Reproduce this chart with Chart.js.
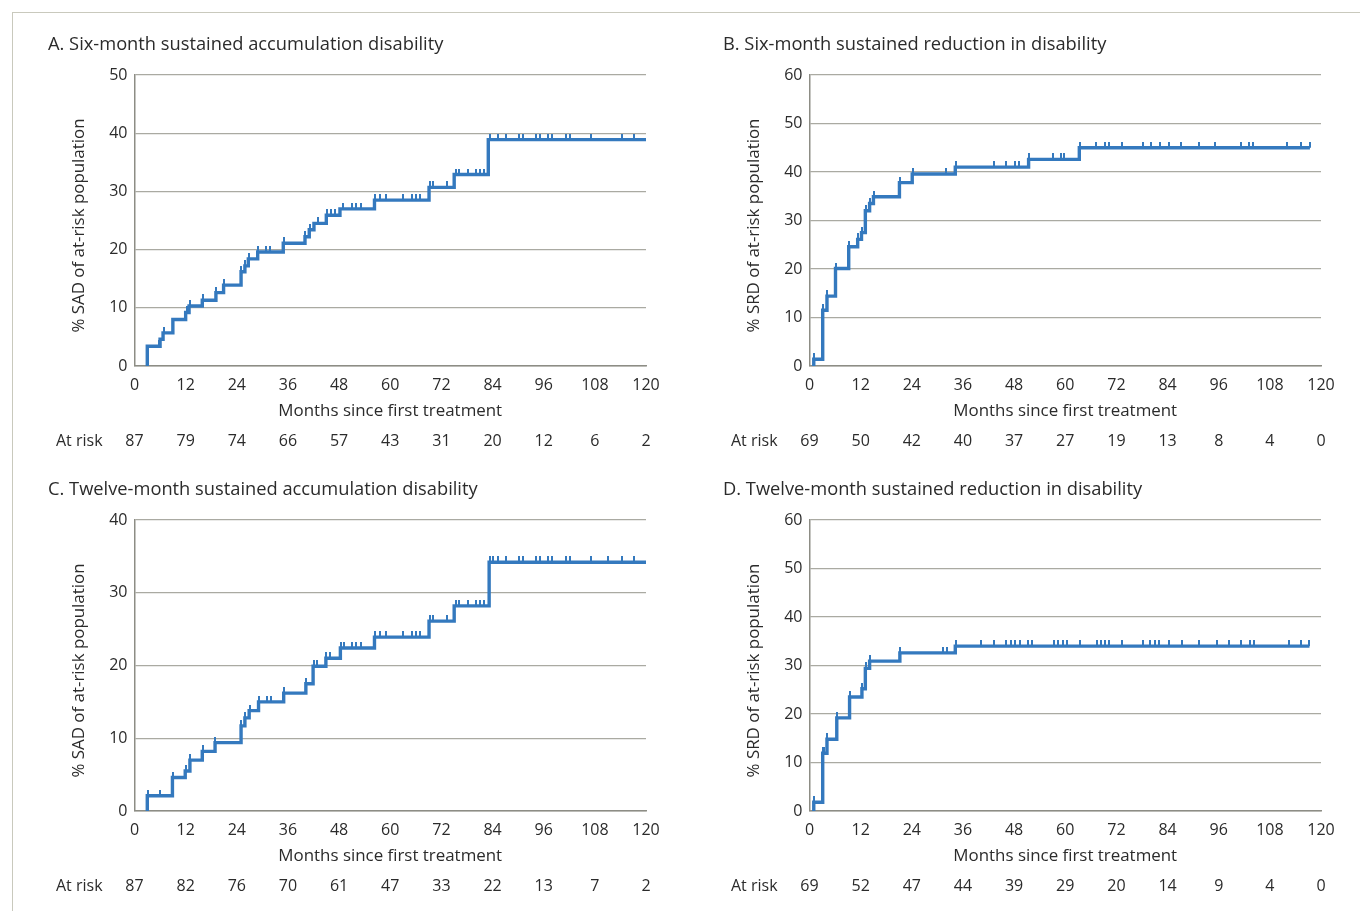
<!DOCTYPE html>
<html>
<head>
<meta charset="utf-8">
<script src="https://cdn.jsdelivr.net/npm/chart.js@4.4.1/dist/chart.umd.min.js"></script>
<style>
  body { margin: 0; background: #fff; width: 1360px; height: 911px; overflow: hidden; position: relative; }
  #frame { position: absolute; left: 12px; top: 12px; width: 1400px; height: 1000px;
           border-left: 1.5px solid #c9c9bd; border-top: 1.5px solid #c9c9bd; }
  canvas { position: absolute; }
</style>
</head>
<body>
<div id="frame"></div>
<canvas id="cA" width="680" height="465" style="left:0px;top:0px"></canvas>
<canvas id="cB" width="680" height="465" style="left:675px;top:0px"></canvas>
<canvas id="cC" width="680" height="465" style="left:0px;top:445px"></canvas>
<canvas id="cD" width="680" height="465" style="left:675px;top:445px"></canvas>
<script>
// ---------------------------------------------------------------
// data (months, % of at-risk population)
// ---------------------------------------------------------------
const MONTHS = [0, 12, 24, 36, 48, 60, 72, 84, 96, 108, 120];

// A. six-month SAD
const timesA = [3, 3, 6, 6.7, 9, 12, 12.8, 15.9, 19.1, 20.9, 25, 25.9, 26.7, 28.9, 34.9, 40, 41, 42.1, 45, 48.2, 56.3, 69.1, 75, 83, 120];
const valuesA = [0, 3.4, 4.6, 5.7, 8, 9.2, 10.3, 11.3, 12.6, 13.9, 16.2, 17.2, 18.4, 19.6, 21.1, 22.2, 23.4, 24.5, 25.9, 27, 28.5, 30.7, 32.9, 38.9, 38.9];
const censorA = [5.8, 6.9, 12.2, 13, 16, 19.2, 21, 25.1, 26, 26.8, 29, 30.8, 31.9, 35, 40.1, 41.1, 43, 45.1, 46, 47, 48.9, 51.1, 52, 53.2,
  56.4, 57.5, 58.9, 63, 65, 66, 66.9, 69.3, 70, 73.2, 75.4, 76.1, 78.2, 80.2, 81.1, 82.1, 83.3, 85.2, 87.1, 90.2, 91.2, 94.3, 95.2,
  97.1, 98, 101.3, 102.2, 107.2, 114.3, 117.3];
const atRiskA = [87, 79, 74, 66, 57, 43, 31, 20, 12, 6, 2];

// B. six-month SRD
const timesB = [1, 1, 3.1, 4.1, 6.1, 9.2, 11.3, 12.2, 13.1, 14.1, 15, 21.1, 24.1, 34.2, 51.4, 63.3, 117.4];
const valuesB = [0, 1.4, 11.5, 14.4, 20.1, 24.6, 26.1, 27.5, 32, 33.5, 34.9, 37.8, 39.6, 41, 42.6, 45, 45];
const censorB = [1.1, 3.2, 4.2, 6.2, 9.3, 11.4, 12.3, 13.2, 14.2, 15.1, 21.2, 24.2, 32.1, 34.3, 43.2, 46.1, 48.1, 49.1, 51.5,
  57.2, 59, 59.8, 63.4, 67.2, 69.4, 70.2, 73.2, 78.2, 80.2, 82.3, 84.3, 87.1, 91.3, 95.2, 101.3, 103.2, 104.1, 112.1, 115.2, 117.4];
const atRiskB = [69, 50, 42, 40, 37, 27, 19, 13, 8, 4, 0];

// C. twelve-month SAD
const timesC = [3, 3, 8.9, 11.9, 13, 15.9, 18.9, 25, 25.9, 26.9, 29.1, 35, 40.2, 41.9, 44.9, 48.3, 56.3, 69.1, 75, 83.2, 120];
const valuesC = [0, 2.1, 4.6, 5.5, 7, 8.2, 9.4, 11.7, 12.8, 13.8, 15, 16.2, 17.5, 19.9, 21, 22.4, 23.9, 26.1, 28.2, 34.2, 34.2];
const censorC = [3.1, 5.9, 9, 12, 13.1, 16, 19, 25.1, 26, 27, 29.2, 31, 32.1, 35.1, 40.3, 42, 42.8, 45, 45.8, 48.4, 49.2, 51.1,
  52, 53.2, 56.4, 57.5, 58.9, 63, 65, 66, 66.9, 69.3, 70, 73.2, 75.4, 76.1, 78.2, 80.2, 81.1, 82.1, 83.3, 84.1, 85.2, 87.1,
  90.2, 91.2, 94.3, 95.2, 97.1, 98, 101.3, 102.2, 107.2, 111.1, 114.3, 117.3];
const atRiskC = [87, 82, 76, 70, 61, 47, 33, 22, 13, 7, 2];

// D. twelve-month SRD
const timesD = [1, 1, 3.1, 4.1, 6.4, 9.4, 12.3, 13.1, 14.1, 21.2, 34.2, 117.3];
const valuesD = [0, 1.8, 11.9, 14.8, 19.2, 23.5, 25.2, 29.4, 30.9, 32.6, 34, 34];
const censorD = [1.1, 3.2, 3.5, 4.2, 6.5, 9.5, 12.4, 13.2, 14.2, 21.3, 31.3, 32.2, 34.3, 40.3, 43.3, 46.1, 47.2, 48.3, 49.4,
  51.3, 52.2, 57.4, 58.3, 59.4, 60.4, 63.5, 67.4, 68.3, 69.4, 70.2, 73.3, 78.3, 79.9, 81, 82.1, 84.3, 87.4, 91.3, 95.5,
  98.5, 101.3, 103.3, 104.2, 112.4, 115.2, 117.3];
const atRiskD = [69, 52, 47, 44, 39, 29, 20, 14, 9, 4, 0];

// ---------------------------------------------------------------
// styles
// ---------------------------------------------------------------
const BLUE = "#3479be";
const TEXT = "#2b2b2b";
const FONT = "'Open Sans', sans-serif";
const GRID = "#aaaaa2";
const AXIS = "#8d8d85";

// small vertical censor mark, drawn in the upper half of the image so it sits on top of the line
const tickImg = document.createElement("canvas");
tickImg.width = 2;
tickImg.height = 12;
(function () {
  const c = tickImg.getContext("2d");
  c.fillStyle = BLUE;
  c.fillRect(0, 0, 2, 6);
})();

function levelAt(times, values, t) {
  let v = 0;
  for (let i = 0; i < times.length; i++) if (times[i] <= t) v = values[i];
  return v;
}

// panel texts: title, axis titles, at-risk row
const decor = {
  id: "decor",
  afterDraw(chart, args, o) {
    const { ctx, chartArea: { left, right, top, bottom } } = chart;
    const xs = chart.scales.x;
    ctx.save();
    ctx.fillStyle = TEXT;
    ctx.textBaseline = "middle";

    ctx.font = "18.3px " + FONT;
    ctx.textAlign = "left";
    ctx.fillText(o.title, 48, 45);

    ctx.font = "16.9px " + FONT;
    ctx.textAlign = "center";
    ctx.fillText("Months since first treatment", (left + right) / 2, bottom + 45);

    ctx.save();
    ctx.translate(79, (top + bottom) / 2 + 5);
    ctx.rotate(-Math.PI / 2);
    ctx.fillText(o.yTitle, 0, 0);
    ctx.restore();

    ctx.font = "16px " + FONT;
    ctx.textAlign = "left";
    ctx.fillText("At risk", 56, bottom + 75);
    ctx.textAlign = "center";
    o.atRisk.forEach((n, i) => ctx.fillText(String(n), xs.getPixelForValue(MONTHS[i]), bottom + 75));
    ctx.restore();
  },
};

function makeChart(id, times, values, censor, atRisk, yMax, title, yTitle) {
  const line = times.map((t, i) => ({ x: t, y: values[i] }));
  const marks = censor.map((t) => ({ x: t, y: levelAt(times, values, t) }));
  return new Chart(document.getElementById(id), {
    type: "line",
    data: {
      datasets: [
        {
          data: line,
          borderColor: BLUE,
          borderWidth: 3.4,
          stepped: "before",
          pointRadius: 0,
          fill: false,
          order: 2,
        },
        {
          type: "scatter",
          data: marks,
          pointStyle: tickImg,
          pointRadius: 6,
          showLine: false,
          order: 1,
        },
      ],
    },
    options: {
      responsive: false,
      animation: false,
      events: [],
      layout: { padding: { left: 0, top: 75, right: 34, bottom: 0 } },
      plugins: {
        legend: { display: false },
        tooltip: { enabled: false },
        decor: { title, yTitle, atRisk },
      },
      scales: {
        x: {
          type: "linear",
          min: 0,
          max: 120,
          afterFit: (s) => { s.height = 99; },
          ticks: { stepSize: 12, padding: 10, color: TEXT, font: { family: FONT, size: 16 }, maxRotation: 0 },
          grid: { display: false, drawTicks: false },
          border: { display: true, color: AXIS, width: 1.5 },
        },
        y: {
          min: 0,
          max: yMax,
          afterFit: (s) => { s.width = 134.5; },
          ticks: { stepSize: 10, padding: 7, color: TEXT, font: { family: FONT, size: 16 } },
          grid: { color: GRID, lineWidth: 1.2, drawTicks: false },
          border: { display: true, color: AXIS, width: 1.5 },
        },
      },
    },
    plugins: [decor],
  });
}

makeChart("cA", timesA, valuesA, censorA, atRiskA, 50,
  "A. Six-month sustained accumulation disability", "% SAD of at-risk population");
makeChart("cB", timesB, valuesB, censorB, atRiskB, 60,
  "B. Six-month sustained reduction in disability", "% SRD of at-risk population");
makeChart("cC", timesC, valuesC, censorC, atRiskC, 40,
  "C. Twelve-month sustained accumulation disability", "% SAD of at-risk population");
makeChart("cD", timesD, valuesD, censorD, atRiskD, 60,
  "D. Twelve-month sustained reduction in disability", "% SRD of at-risk population");
</script>
</body>
</html>
